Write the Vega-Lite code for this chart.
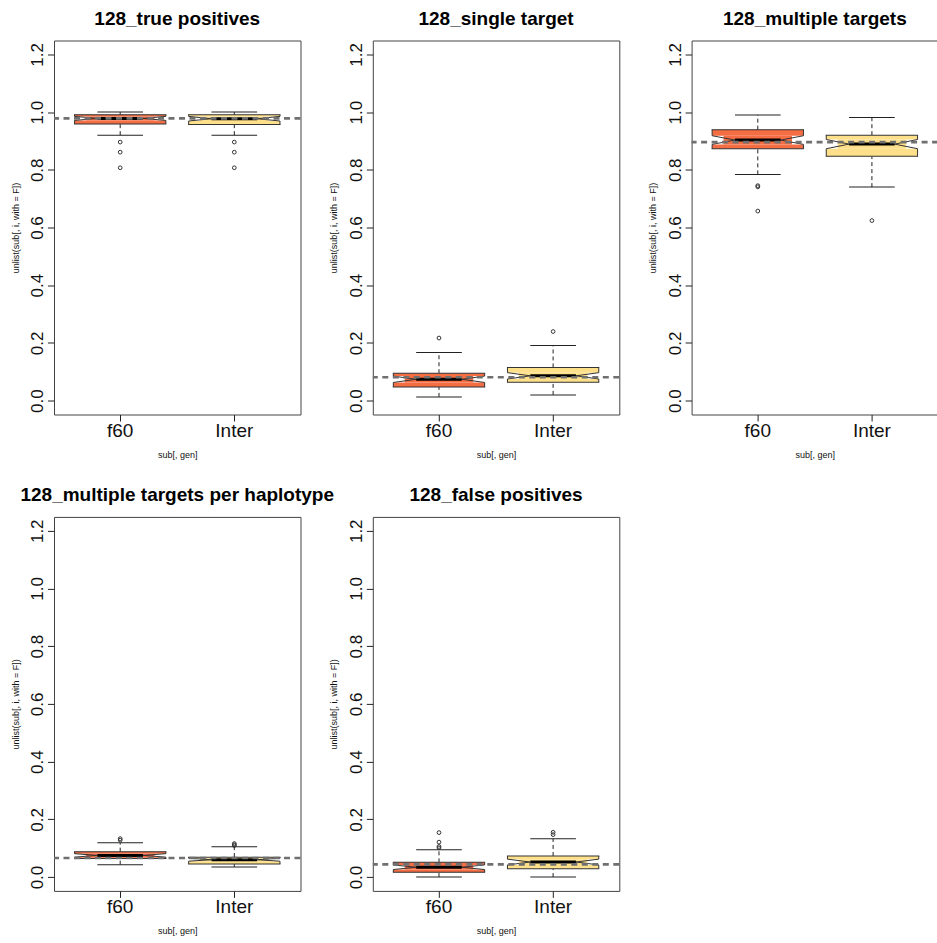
{
  "$schema": "https://vega.github.io/schema/vega-lite/v6.json",
  "background": "white",
  "padding": {"left": 10, "top": 9.5, "right": 0, "bottom": 0},
  "config": {
    "font": "Liberation Sans",
    "view": {"stroke": "#444", "strokeWidth": 1},
    "axis": {"grid": false, "domain": false, "tickColor": "#222", "tickSize": 6.5, "labelColor": "#111", "titleColor": "#111", "titleFontWeight": "normal", "titleFontSize": 9, "labelFont": "Liberation Sans", "titleFont": "Liberation Sans"},
    "axisX": {"labelAngle": 0, "labelFontSize": 19, "labelPadding": 15.2, "labelBaseline": "alphabetic", "titleY": 43, "titleBaseline": "alphabetic"},
    "axisY": {"labelAngle": -90, "labelAlign": "center", "labelBaseline": "alphabetic", "labelFontSize": 17, "labelPadding": 5, "titleX": -36, "titleBaseline": "alphabetic", "labelFlush": false, "labelOverlap": false},
    "header": {"labelFontSize": 19, "labelFontWeight": "bold", "labelColor": "black", "labelPadding": 11.5, "labelLimit": 0, "labelFont": "Liberation Sans"}
  },
  "data": {"values": [
    {"kind": "box", "panel": "128_true positives", "gen": "f60", "lo": 0.92, "q1": 0.959, "nlo": 0.971, "med": 0.978, "nhi": 0.985, "q3": 0.991, "hi": 1.0},
    {"kind": "box", "panel": "128_true positives", "gen": "Inter", "lo": 0.92, "q1": 0.957, "nlo": 0.969, "med": 0.977, "nhi": 0.985, "q3": 0.991, "hi": 1.0},
    {"kind": "box", "panel": "128_single target", "gen": "f60", "lo": 0.013, "q1": 0.047, "nlo": 0.063, "med": 0.074, "nhi": 0.085, "q3": 0.095, "hi": 0.167},
    {"kind": "box", "panel": "128_single target", "gen": "Inter", "lo": 0.02, "q1": 0.064, "nlo": 0.075, "med": 0.086, "nhi": 0.097, "q3": 0.115, "hi": 0.191},
    {"kind": "box", "panel": "128_multiple targets", "gen": "f60", "lo": 0.784, "q1": 0.873, "nlo": 0.888, "med": 0.903, "nhi": 0.918, "q3": 0.939, "hi": 0.99},
    {"kind": "box", "panel": "128_multiple targets", "gen": "Inter", "lo": 0.74, "q1": 0.847, "nlo": 0.873, "med": 0.889, "nhi": 0.905, "q3": 0.92, "hi": 0.981},
    {"kind": "box", "panel": "128_multiple targets per haplotype", "gen": "f60", "lo": 0.043, "q1": 0.064, "nlo": 0.069, "med": 0.075, "nhi": 0.081, "q3": 0.088, "hi": 0.119},
    {"kind": "box", "panel": "128_multiple targets per haplotype", "gen": "Inter", "lo": 0.035, "q1": 0.045, "nlo": 0.055, "med": 0.06, "nhi": 0.065, "q3": 0.069, "hi": 0.105},
    {"kind": "box", "panel": "128_false positives", "gen": "f60", "lo": 0.0, "q1": 0.017, "nlo": 0.026, "med": 0.034, "nhi": 0.042, "q3": 0.051, "hi": 0.095},
    {"kind": "box", "panel": "128_false positives", "gen": "Inter", "lo": 0.0, "q1": 0.029, "nlo": 0.042, "med": 0.052, "nhi": 0.062, "q3": 0.073, "hi": 0.133},
    {"kind": "out", "panel": "128_true positives", "gen": "f60", "value": 0.896},
    {"kind": "out", "panel": "128_true positives", "gen": "f60", "value": 0.861},
    {"kind": "out", "panel": "128_true positives", "gen": "f60", "value": 0.807},
    {"kind": "out", "panel": "128_true positives", "gen": "Inter", "value": 0.896},
    {"kind": "out", "panel": "128_true positives", "gen": "Inter", "value": 0.861},
    {"kind": "out", "panel": "128_true positives", "gen": "Inter", "value": 0.807},
    {"kind": "out", "panel": "128_single target", "gen": "f60", "value": 0.217},
    {"kind": "out", "panel": "128_single target", "gen": "Inter", "value": 0.2395},
    {"kind": "out", "panel": "128_multiple targets", "gen": "f60", "value": 0.741},
    {"kind": "out", "panel": "128_multiple targets", "gen": "f60", "value": 0.745},
    {"kind": "out", "panel": "128_multiple targets", "gen": "f60", "value": 0.657},
    {"kind": "out", "panel": "128_multiple targets", "gen": "Inter", "value": 0.624},
    {"kind": "out", "panel": "128_multiple targets per haplotype", "gen": "f60", "value": 0.133},
    {"kind": "out", "panel": "128_multiple targets per haplotype", "gen": "f60", "value": 0.128},
    {"kind": "out", "panel": "128_multiple targets per haplotype", "gen": "Inter", "value": 0.116},
    {"kind": "out", "panel": "128_multiple targets per haplotype", "gen": "Inter", "value": 0.112},
    {"kind": "out", "panel": "128_multiple targets per haplotype", "gen": "Inter", "value": 0.109},
    {"kind": "out", "panel": "128_false positives", "gen": "f60", "value": 0.154},
    {"kind": "out", "panel": "128_false positives", "gen": "f60", "value": 0.121},
    {"kind": "out", "panel": "128_false positives", "gen": "f60", "value": 0.106},
    {"kind": "out", "panel": "128_false positives", "gen": "f60", "value": 0.101},
    {"kind": "out", "panel": "128_false positives", "gen": "Inter", "value": 0.155},
    {"kind": "out", "panel": "128_false positives", "gen": "Inter", "value": 0.147},
    {"kind": "ref", "panel": "128_true positives", "value": 0.978},
    {"kind": "ref", "panel": "128_single target", "value": 0.081},
    {"kind": "ref", "panel": "128_multiple targets", "value": 0.896},
    {"kind": "ref", "panel": "128_multiple targets per haplotype", "value": 0.066},
    {"kind": "ref", "panel": "128_false positives", "value": 0.044}
  ]},
  "facet": {
    "field": "panel", "type": "nominal", "title": null,
    "sort": ["128_true positives", "128_single target", "128_multiple targets", "128_multiple targets per haplotype", "128_false positives"]
  },
  "columns": 3,
  "spacing": {"row": 102.4, "column": 71.8},
  "bounds": "flush",
  "resolve": {"axis": {"x": "independent", "y": "independent"}},
  "spec": {
    "width": 246.5,
    "height": 374,
    "layer": [
      {
        "transform": [{"filter": "datum.kind === 'box'"}],
        "mark": {"type": "rule", "strokeDash": [4, 3], "strokeWidth": 1, "color": "#222"},
        "encoding": {
          "x": {"field": "gen", "type": "nominal", "title": "sub[, gen]", "scale": {"domain": ["f60", "Inter"], "paddingInner": 0.2, "paddingOuter": 0.18}},
          "y": {"field": "lo", "type": "quantitative", "title": "unlist(sub[, i, with = F])", "scale": {"domain": [-0.048, 1.248], "nice": false, "zero": false}, "axis": {"values": [0, 0.2, 0.4, 0.6, 0.8, 1, 1.2], "format": ".1f"}},
          "y2": {"field": "q1"}
        }
      },
      {
        "transform": [{"filter": "datum.kind === 'box'"}],
        "mark": {"type": "rule", "strokeDash": [4, 3], "strokeWidth": 1, "color": "#222"},
        "encoding": {
          "x": {"field": "gen", "type": "nominal", "title": "sub[, gen]"},
          "y": {"field": "q3", "type": "quantitative", "title": "unlist(sub[, i, with = F])"},
          "y2": {"field": "hi"}
        }
      },
      {
        "transform": [{"filter": "datum.kind === 'box'"}, {"fold": ["lo", "hi"], "as": ["stat", "v"]}],
        "mark": {"type": "tick", "size": 45.65, "thickness": 1, "color": "#222", "opacity": 1},
        "encoding": {
          "x": {"field": "gen", "type": "nominal", "title": "sub[, gen]"},
          "y": {"field": "v", "type": "quantitative", "title": "unlist(sub[, i, with = F])"}
        }
      },
      {
        "transform": [{"filter": "datum.kind === 'box'"}],
        "mark": {"type": "bar", "opacity": 1},
        "encoding": {
          "x": {"field": "gen", "type": "nominal", "title": "sub[, gen]"},
          "y": {"field": "q1", "type": "quantitative", "title": "unlist(sub[, i, with = F])"},
          "y2": {"field": "nlo"},
          "color": {"field": "gen", "type": "nominal", "scale": {"domain": ["f60", "Inter"], "range": ["#F46D43", "#FEE08B"]}, "legend": null}
        }
      },
      {
        "transform": [{"filter": "datum.kind === 'box'"}],
        "mark": {"type": "bar", "opacity": 1},
        "encoding": {
          "x": {"field": "gen", "type": "nominal", "title": "sub[, gen]"},
          "y": {"field": "nhi", "type": "quantitative", "title": "unlist(sub[, i, with = F])"},
          "y2": {"field": "q3"},
          "color": {"field": "gen", "type": "nominal", "legend": null}
        }
      },
      {
        "transform": [{"filter": "datum.kind === 'box'"}],
        "mark": {"type": "bar", "opacity": 1, "width": {"band": 0.75}},
        "encoding": {
          "x": {"field": "gen", "type": "nominal", "title": "sub[, gen]"},
          "y": {"field": "nlo", "type": "quantitative", "title": "unlist(sub[, i, with = F])"},
          "y2": {"field": "nhi"},
          "color": {"field": "gen", "type": "nominal", "legend": null}
        }
      },
      {
        "transform": [{"filter": "datum.kind === 'box'"}],
        "mark": {"type": "rule", "color": "#333", "strokeWidth": 1, "xOffset": -45.65},
        "encoding": {
          "x": {"field": "gen", "type": "nominal", "title": "sub[, gen]"},
          "y": {"field": "q1", "type": "quantitative", "title": "unlist(sub[, i, with = F])"},
          "y2": {"field": "nlo"}
        }
      },
      {
        "transform": [{"filter": "datum.kind === 'box'"}],
        "mark": {"type": "rule", "color": "#333", "strokeWidth": 1, "xOffset": -45.65},
        "encoding": {
          "x": {"field": "gen", "type": "nominal", "title": "sub[, gen]"},
          "y": {"field": "nhi", "type": "quantitative", "title": "unlist(sub[, i, with = F])"},
          "y2": {"field": "q3"}
        }
      },
      {
        "transform": [{"filter": "datum.kind === 'box'"}],
        "mark": {"type": "rule", "color": "#333", "strokeWidth": 1, "xOffset": 45.65},
        "encoding": {
          "x": {"field": "gen", "type": "nominal", "title": "sub[, gen]"},
          "y": {"field": "q1", "type": "quantitative", "title": "unlist(sub[, i, with = F])"},
          "y2": {"field": "nlo"}
        }
      },
      {
        "transform": [{"filter": "datum.kind === 'box'"}],
        "mark": {"type": "rule", "color": "#333", "strokeWidth": 1, "xOffset": 45.65},
        "encoding": {
          "x": {"field": "gen", "type": "nominal", "title": "sub[, gen]"},
          "y": {"field": "nhi", "type": "quantitative", "title": "unlist(sub[, i, with = F])"},
          "y2": {"field": "q3"}
        }
      },
      {
        "transform": [{"filter": "datum.kind === 'box'"}],
        "mark": {"type": "rule", "color": "#333", "strokeWidth": 1, "xOffset": -45.65, "x2Offset": -22.83},
        "encoding": {
          "x": {"field": "gen", "type": "nominal", "title": "sub[, gen]", "bandPosition": 0.5},
          "x2": {"field": "gen", "bandPosition": 0.5},
          "y": {"field": "nlo", "type": "quantitative", "title": "unlist(sub[, i, with = F])"},
          "y2": {"field": "med"}
        }
      },
      {
        "transform": [{"filter": "datum.kind === 'box'"}],
        "mark": {"type": "rule", "color": "#333", "strokeWidth": 1, "xOffset": -22.83, "x2Offset": -45.65},
        "encoding": {
          "x": {"field": "gen", "type": "nominal", "title": "sub[, gen]", "bandPosition": 0.5},
          "x2": {"field": "gen", "bandPosition": 0.5},
          "y": {"field": "med", "type": "quantitative", "title": "unlist(sub[, i, with = F])"},
          "y2": {"field": "nhi"}
        }
      },
      {
        "transform": [{"filter": "datum.kind === 'box'"}],
        "mark": {"type": "rule", "color": "#333", "strokeWidth": 1, "xOffset": 45.65, "x2Offset": 22.83},
        "encoding": {
          "x": {"field": "gen", "type": "nominal", "title": "sub[, gen]", "bandPosition": 0.5},
          "x2": {"field": "gen", "bandPosition": 0.5},
          "y": {"field": "nlo", "type": "quantitative", "title": "unlist(sub[, i, with = F])"},
          "y2": {"field": "med"}
        }
      },
      {
        "transform": [{"filter": "datum.kind === 'box'"}],
        "mark": {"type": "rule", "color": "#333", "strokeWidth": 1, "xOffset": 22.83, "x2Offset": 45.65},
        "encoding": {
          "x": {"field": "gen", "type": "nominal", "title": "sub[, gen]", "bandPosition": 0.5},
          "x2": {"field": "gen", "bandPosition": 0.5},
          "y": {"field": "med", "type": "quantitative", "title": "unlist(sub[, i, with = F])"},
          "y2": {"field": "nhi"}
        }
      },
      {
        "transform": [{"filter": "datum.kind === 'box'"}, {"fold": ["q1", "q3"], "as": ["stat", "v"]}],
        "mark": {"type": "tick", "size": 92.3, "thickness": 1, "color": "#333", "opacity": 1},
        "encoding": {
          "x": {"field": "gen", "type": "nominal", "title": "sub[, gen]"},
          "y": {"field": "v", "type": "quantitative", "title": "unlist(sub[, i, with = F])"}
        }
      },
      {
        "transform": [{"filter": "datum.kind === 'box'"}],
        "mark": {"type": "tick", "size": 45.65, "thickness": 3, "color": "black", "opacity": 1},
        "encoding": {
          "x": {"field": "gen", "type": "nominal", "title": "sub[, gen]"},
          "y": {"field": "med", "type": "quantitative", "title": "unlist(sub[, i, with = F])"}
        }
      },
      {
        "transform": [{"filter": "datum.kind === 'out'"}],
        "mark": {"type": "point", "shape": "circle", "filled": false, "size": 14, "strokeWidth": 1, "color": "#333", "opacity": 1},
        "encoding": {
          "x": {"field": "gen", "type": "nominal", "title": "sub[, gen]"},
          "y": {"field": "value", "type": "quantitative", "title": "unlist(sub[, i, with = F])"}
        }
      },
      {
        "transform": [{"filter": "datum.kind === 'ref'"}],
        "mark": {"type": "rule", "color": "#707070", "strokeWidth": 2.7, "strokeDash": [6, 4.5]},
        "encoding": {
          "y": {"field": "value", "type": "quantitative", "title": "unlist(sub[, i, with = F])"}
        }
      }
    ]
  }
}
